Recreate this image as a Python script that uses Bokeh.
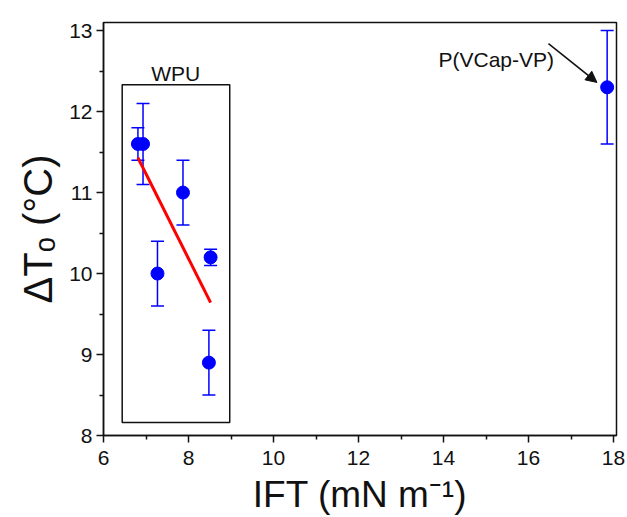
from bokeh.plotting import figure
from bokeh.models import (Range1d, Whisker, ColumnDataSource, Label, BoxAnnotation,
                          Arrow, NormalHead, TeeHead, FixedTicker)
from bokeh.embed import file_html
from bokeh.resources import INLINE

# ---- data ----
wpu_ift = [6.81, 6.93, 7.27, 7.87, 8.52, 8.48]
wpu_dt = [11.6, 11.6, 10.0, 11.0, 10.2, 8.9]
wpu_err = [0.2, 0.5, 0.4, 0.4, 0.1, 0.4]
pvcap_ift = [17.85]
pvcap_dt = [12.3]
pvcap_err = [0.7]
fit_ift = [6.81, 8.52]
fit_dt = [11.43, 9.64]
x_ticks = [6, 8, 10, 12, 14, 16, 18]
x_minor = [7, 9, 11, 13, 15, 17]
y_ticks = [8, 9, 10, 11, 12, 13]
y_minor = [8.5, 9.5, 10.5, 11.5, 12.5]

FONT = "Liberation Sans"
BLUE = "#0000FF"
INK = "#111111"

p = figure(width=627, height=517, x_range=Range1d(6, 18.07), y_range=Range1d(8, 13.1),
           output_backend="svg", toolbar_location=None,
           min_border_left=103, min_border_right=11, min_border_top=22, min_border_bottom=82)
p.grid.visible = False
p.outline_line_color = INK
p.outline_line_width = 1.5
p.background_fill_color = "white"
p.border_fill_color = "white"

for ax in (p.xaxis[0], p.yaxis[0]):
    ax.axis_line_width = 1.5
    ax.axis_line_color = INK
    ax.major_tick_line_color = INK
    ax.minor_tick_line_color = INK
    ax.major_tick_line_width = 1.5
    ax.minor_tick_line_width = 1.5
    ax.major_tick_out = 7
    ax.major_tick_in = 0
    ax.minor_tick_out = 4
    ax.minor_tick_in = 0
    ax.major_label_text_font = FONT
    ax.major_label_text_font_size = "21px"
    ax.major_label_text_color = INK
    ax.axis_label_text_font = FONT
    ax.axis_label_text_font_style = "normal"
    ax.axis_label_text_color = INK

p.xaxis[0].ticker = FixedTicker(ticks=x_ticks, minor_ticks=x_minor)
p.yaxis[0].ticker = FixedTicker(ticks=y_ticks, minor_ticks=y_minor)
p.xaxis[0].major_label_standoff = 8
p.yaxis[0].major_label_standoff = 4
p.xaxis[0].axis_label = "IFT (mN m\u207b\u00b9)"
p.yaxis[0].axis_label = "\u0394T\u2092 (\u00b0C)"
p.xaxis[0].axis_label_text_font_size = "37px"
p.yaxis[0].axis_label_text_font_size = "40px"
p.xaxis[0].axis_label_standoff = 6
p.yaxis[0].axis_label_standoff = 6

# WPU box (annotation)
p.add_layout(BoxAnnotation(left=6.44, right=8.97, bottom=8.16, top=12.33,
                           fill_alpha=0, line_color=INK, line_alpha=1, line_width=1.5))
p.add_layout(Label(x=7.70, y=12.47, text="WPU", text_align="center", text_baseline="middle",
                   text_font=FONT, text_font_size="21px", text_color=INK))

# fit line
p.line(fit_ift, fit_dt, line_color="#FF0000", line_width=3)

# error bars
lo = [y - e for y, e in zip(wpu_dt, wpu_err)] + [y - e for y, e in zip(pvcap_dt, pvcap_err)]
hi = [y + e for y, e in zip(wpu_dt, wpu_err)] + [y + e for y, e in zip(pvcap_dt, pvcap_err)]
src = ColumnDataSource(dict(x=wpu_ift + pvcap_ift, lower=lo, upper=hi))
p.add_layout(Whisker(base="x", lower="lower", upper="upper", source=src,
                     line_color=BLUE, line_width=1.5,
                     upper_head=TeeHead(size=13, line_color=BLUE, line_width=1.5),
                     lower_head=TeeHead(size=13, line_color=BLUE, line_width=1.5)))

# points
p.scatter(wpu_ift + pvcap_ift, wpu_dt + pvcap_dt, size=13, fill_color=BLUE, line_color=BLUE)

# P(VCap-VP) annotation
p.add_layout(Label(x=15.24, y=12.64, text="P(VCap-VP)", text_align="center", text_baseline="middle",
                   text_font=FONT, text_font_size="21px", text_color=INK))
p.add_layout(Arrow(x_start=16.47, y_start=12.84, x_end=17.61, y_end=12.36,
                   line_color=INK, line_width=1.5,
                   end=NormalHead(size=11, fill_color=INK, line_color=INK)))

open("out.html", "w").write(file_html(p, INLINE))
